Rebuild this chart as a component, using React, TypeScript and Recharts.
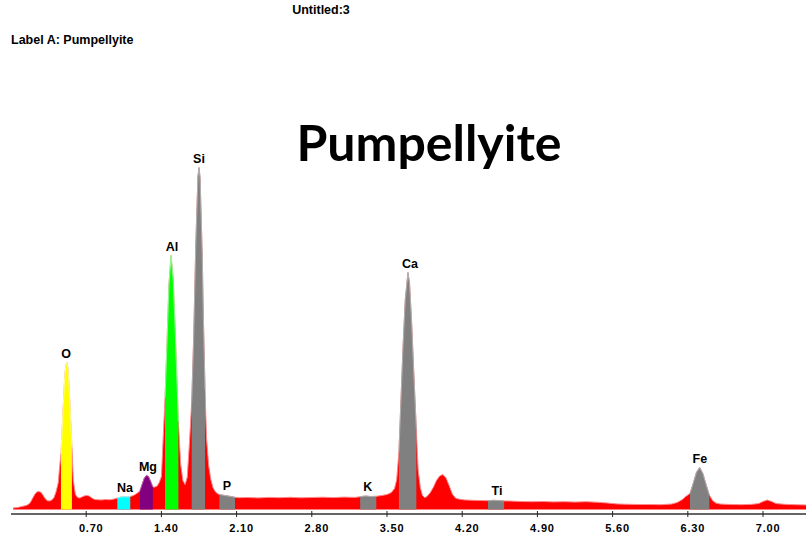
import { ComposedChart, Area, XAxis, YAxis, ReferenceDot } from "recharts";

// EDS spectrum, energy in keV, counts
const energies = [
  0.02, 0.04, 0.06, 0.08, 0.1, 0.12, 0.14, 0.16, 0.18, 0.2,
  0.22, 0.24, 0.26, 0.28, 0.3, 0.32, 0.34, 0.36, 0.38, 0.4,
  0.42, 0.44, 0.45, 0.465, 0.48, 0.49, 0.5, 0.51, 0.52, 0.53,
  0.54, 0.55, 0.567, 0.58, 0.6, 0.62, 0.64, 0.66, 0.68, 0.7,
  0.72, 0.74, 0.76, 0.78, 0.8, 0.84, 0.88, 0.92, 0.96, 0.99,
  1.02, 1.05, 1.08, 1.11, 1.14, 1.17, 1.2, 1.22, 1.24, 1.26,
  1.28, 1.3, 1.32, 1.34, 1.36, 1.38, 1.4, 1.42, 1.434, 1.45,
  1.47, 1.49, 1.51, 1.53, 1.545, 1.558, 1.58, 1.6, 1.62, 1.64,
  1.66, 1.682, 1.7, 1.72, 1.74, 1.75, 1.76, 1.78, 1.79, 1.806,
  1.82, 1.84, 1.86, 1.88, 1.9, 1.92, 1.94, 1.98, 2.02, 2.06,
  2.085, 2.12, 2.2, 2.3, 2.4, 2.5, 2.6, 2.7, 2.8, 2.9,
  3.0, 3.1, 3.2, 3.25, 3.3, 3.35, 3.4, 3.45, 3.5, 3.54,
  3.57, 3.59, 3.611, 3.63, 3.65, 3.67, 3.695, 3.71, 3.73, 3.75,
  3.773, 3.79, 3.81, 3.83, 3.85, 3.87, 3.9, 3.93, 3.96, 3.99,
  4.02, 4.05, 4.08, 4.11, 4.14, 4.18, 4.22, 4.3, 4.38, 4.44,
  4.49, 4.54, 4.59, 4.65, 4.75, 4.85, 4.95, 5.05, 5.15, 5.25,
  5.35, 5.45, 5.55, 5.65, 5.75, 5.85, 5.95, 6.05, 6.15, 6.2,
  6.25, 6.28, 6.32, 6.35, 6.38, 6.41, 6.44, 6.47, 6.5, 6.53,
  6.56, 6.6, 6.7, 6.8, 6.9, 6.96, 7.0, 7.04, 7.08, 7.12,
  7.2, 7.3, 7.4,
];

const counts = [
  15, 18, 20, 25, 30, 35, 40, 50, 70, 110,
  150, 175, 180, 172, 140, 105, 88, 85, 95, 120,
  180, 270, 400, 560, 880, 1120, 1320, 1440, 1470, 1410,
  1250, 1020, 630, 290, 150, 120, 115, 125, 135, 140,
  138, 125, 110, 100, 98, 95, 100, 97, 105, 115,
  125, 128, 126, 130, 140, 160, 185, 250, 310, 340,
  330, 280, 225, 225, 235, 270, 330, 800, 1120, 1600,
  2250, 2540, 2300, 1750, 1280, 880, 450, 290, 250, 320,
  650, 1070, 1700, 2650, 3330, 3420, 3320, 2550, 1950, 1200,
  720, 440, 300, 220, 180, 160, 150, 142, 135, 128,
  122, 118, 120, 116, 121, 118, 122, 117, 120, 123,
  119, 124, 121, 128, 135, 130, 132, 140, 150, 170,
  210, 300, 580, 1100, 1650, 2100, 2370, 2260, 1850, 1350,
  800, 400, 220, 140, 120, 128, 165, 220, 290, 335,
  350, 315, 235, 150, 112, 102, 96, 92, 90, 88,
  92, 90, 86, 84, 80, 78, 80, 76, 78, 74,
  78, 73, 65, 55, 52, 50, 50, 48, 55, 70,
  100, 130, 160, 260, 370, 420, 360, 250, 145, 90,
  65, 55, 50, 48, 52, 60, 80, 95, 80, 60,
  52, 48, 45,
];

// element windows (regions of interest)
const roiNames = ["O", "Na", "Mg", "Al", "Si", "P", "K", "Ca", "Ti", "Fe"];
const roiStart = [0.465, 0.99, 1.2, 1.434, 1.682, 1.94, 3.25, 3.611, 4.44, 6.32];
const roiEnd = [0.567, 1.11, 1.32, 1.558, 1.806, 2.085, 3.4, 3.773, 4.59, 6.5];

// peak labels
const peakLabels = ["O", "Na", "Mg", "Al", "Si", "P", "K", "Ca", "Ti", "Fe"];
const peakEnergy = [0.512, 1.061, 1.275, 1.498, 1.75, 2.01, 3.322, 3.713, 4.523, 6.412];
const peakCounts = [1470, 130, 340, 2540, 3420, 150, 140, 2370, 92, 420];

const energyTicks = [0.7, 1.4, 2.1, 2.8, 3.5, 4.2, 4.9, 5.6, 6.3, 7.0];

const ROI_FILL: Record<string, string> = {
  O: "#ffff00",
  Na: "#00ffff",
  Mg: "#800080",
  Al: "#00ff00",
  Si: "#808080",
  P: "#808080",
  K: "#808080",
  Ca: "#808080",
  Ti: "#808080",
  Fe: "#808080",
};
const ROI_EDGE: Record<string, string> = {
  O: "#ffff99",
  Na: "#99ffff",
  Mg: "#b060b0",
  Al: "#90ff90",
  Si: "#b0b0b0",
  P: "#b0b0b0",
  K: "#b0b0b0",
  Ca: "#b0b0b0",
  Ti: "#b0b0b0",
  Fe: "#b0b0b0",
};

const data = energies.map((e, i) => {
  const row: Record<string, number | null> = { e, total: counts[i] };
  roiNames.forEach((name, j) => {
    row[name] = e >= roiStart[j] - 1e-9 && e <= roiEnd[j] + 1e-9 ? counts[i] : null;
  });
  return row;
});

const HEAD_FONT = "'Liberation Sans', Arial, sans-serif";

function EnergyTick({ x, y, payload }: any) {
  return (
    <g>
      <line x1={x} x2={x} y1={y - 13} y2={y - 7} stroke="#222" />
      <text
        x={x + 5}
        y={y}
        dy="0.71em"
        textAnchor="middle"
        fontSize={11}
        fontWeight="bold"
        fontFamily={HEAD_FONT}
        letterSpacing={0.8}
        fill="#000"
      >
        {Number(payload.value).toFixed(2)}
      </text>
    </g>
  );
}

export default function App() {
  return (
    <div style={{ position: "relative", width: 806, height: 539, background: "#fff" }}>
      <style>{"body{margin:0}"}</style>
      <div
        style={{
          position: "absolute",
          left: 0,
          top: 3,
          width: 642,
          textAlign: "center",
          fontFamily: HEAD_FONT,
          fontWeight: "bold",
          fontSize: 12.5,
        }}
      >
        Untitled:3
      </div>
      <div
        style={{
          position: "absolute",
          left: 11,
          top: 33,
          fontFamily: HEAD_FONT,
          fontWeight: "bold",
          fontSize: 12.5,
        }}
      >
        Label A: Pumpellyite
      </div>
      <div
        style={{
          position: "absolute",
          left: 0,
          top: 111,
          width: 858,
          textAlign: "center",
          fontFamily: "Lato, 'Open Sans', sans-serif",
          fontWeight: 700,
          fontSize: 50,
          lineHeight: "62px",
          color: "#000",
        }}
      >
        Pumpellyite
      </div>
      <ComposedChart
        width={806}
        height={539}
        data={data}
        margin={{ top: 60, right: 0, bottom: 0, left: 11 }}
        style={{ position: "absolute", left: 0, top: 0 }}
      >
        <XAxis
          type="number"
          dataKey="e"
          domain={[0, 7.4]}
          ticks={energyTicks}
          height={25}
          tickSize={4}
          tickMargin={6}
          tickLine={false}
          axisLine={{ stroke: "#333", strokeWidth: 1.5 }}
          tick={<EnergyTick />}
          allowDataOverflow
        />
        <YAxis hide type="number" domain={[-45, 4495]} allowDataOverflow />
        <Area
          type="linear"
          dataKey="total"
          fill="#ff0000"
          fillOpacity={1}
          stroke="#ff8a8a"
          strokeWidth={1}
          isAnimationActive={false}
          dot={false}
          activeDot={false}
        />
        {roiNames.map((name) => (
          <Area
            key={name}
            type="linear"
            dataKey={name}
            fill={ROI_FILL[name]}
            fillOpacity={1}
            stroke={ROI_EDGE[name]}
            strokeWidth={1}
            connectNulls={false}
            isAnimationActive={false}
            dot={false}
            activeDot={false}
          />
        ))}
        {peakLabels.map((el, i) => (
          <ReferenceDot
            key={el}
            x={peakEnergy[i]}
            y={peakCounts[i]}
            r={0}
            fill="none"
            stroke="none"
            label={{
              value: el,
              position: "top",
              offset: 5,
              fill: "#000",
              fontSize: 12.5,
              fontWeight: 600,
              fontFamily: HEAD_FONT,
            }}
          />
        ))}
      </ComposedChart>
    </div>
  );
}
